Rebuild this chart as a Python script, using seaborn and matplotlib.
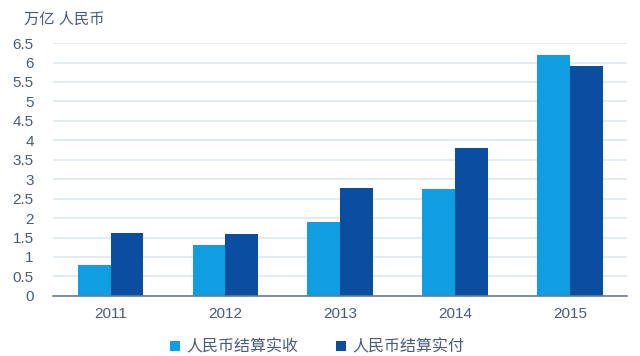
import pandas as pd
import seaborn as sns
import matplotlib.pyplot as plt
from matplotlib.ticker import FixedLocator

# data (万亿 人民币)
years = ["2011", "2012", "2013", "2014", "2015"]
receipts = [0.79, 1.31, 1.90, 2.74, 6.20]   # 人民币结算实收
payments = [1.61, 1.59, 2.77, 3.80, 5.92]   # 人民币结算实付
series_names = ["人民币结算实收", "人民币结算实付"]
yticks = [0, 0.5, 1, 1.5, 2, 2.5, 3, 3.5, 4, 4.5, 5, 5.5, 6, 6.5]
ytick_labels = ["0", "0.5", "1", "1.5", "2", "2.5", "3", "3.5", "4", "4.5", "5", "5.5", "6", "6.5"]

df = pd.DataFrame({
    "year": years * 2,
    "value": receipts + payments,
    "series": [series_names[0]] * len(years) + [series_names[1]] * len(years),
})

sns.set_style("white")
plt.rcParams["font.family"] = ["Liberation Sans", "Noto Sans CJK SC", "DejaVu Sans"]

text_color = "#4a5b78"
fig = plt.figure(figsize=(6.4, 3.56), dpi=100)
ax = fig.add_axes([0.083, 0.169, 0.897, 0.71])

sns.barplot(data=df, x="year", y="value", hue="series",
            palette=["#109ee0", "#0b4d9f"], width=0.57,
            saturation=1, linewidth=0, ax=ax, legend=True)

ax.set_ylim(0, 6.5)
ax.set_xlim(-0.5, 4.5)
ax.set_yticks(yticks)
ax.set_yticklabels(ytick_labels)
ax.yaxis.grid(True, color="#dfe8ef", linewidth=1.2)
ax.set_axisbelow(True)

# tick marks at category boundaries, labels at centres
ax.set_xticks(range(len(years)))
ax.set_xticklabels(years)
ax.xaxis.set_minor_locator(FixedLocator([-0.5, 0.5, 1.5, 2.5, 3.5, 4.5]))
ax.tick_params(axis="x", which="major", length=0, pad=8, labelsize=11, colors=text_color)
ax.tick_params(axis="x", which="minor", length=5, width=1, color="#6a7a90", direction="out")
ax.tick_params(axis="y", length=0, pad=14, labelsize=11, colors=text_color)

for s in ["top", "right", "left"]:
    ax.spines[s].set_visible(False)
ax.spines["bottom"].set_color("#6a7a90")
ax.spines["bottom"].set_linewidth(1.2)

ax.set_xlabel("")
ax.set_ylabel("")
fig.text(0.038, 0.945, "万亿 人民币", color=text_color, fontsize=11, ha="left", va="center")

ax.legend(loc="upper center", bbox_to_anchor=(0.46, -0.115), ncol=2, frameon=False,
          fontsize=11.5, labelcolor=text_color, handlelength=0.6, handleheight=0.6,
          handletextpad=0.4, columnspacing=2.4)

fig.savefig("out.png", dpi=100, facecolor="white")
